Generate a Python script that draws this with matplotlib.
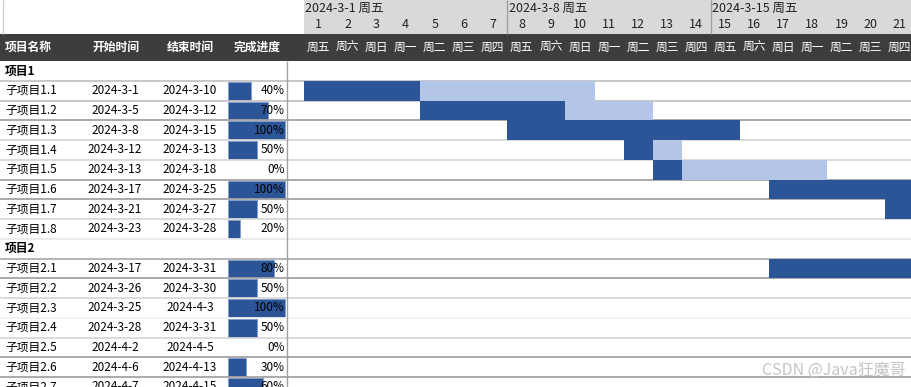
import math
import datetime as dt
import matplotlib
matplotlib.use("Agg")
import matplotlib.pyplot as plt

plt.rcParams['font.family'] = ['Noto Sans CJK SC', 'DejaVu Sans']

# ---------------- data ----------------
row_names = ['项目1', '子项目1.1', '子项目1.2', '子项目1.3', '子项目1.4', '子项目1.5',
             '子项目1.6', '子项目1.7', '子项目1.8', '项目2', '子项目2.1', '子项目2.2',
             '子项目2.3', '子项目2.4', '子项目2.5', '子项目2.6', '子项目2.7']
start_dates = [None, '2024-3-1', '2024-3-5', '2024-3-8', '2024-3-12', '2024-3-13',
               '2024-3-17', '2024-3-21', '2024-3-23', None, '2024-3-17', '2024-3-26',
               '2024-3-25', '2024-3-28', '2024-4-2', '2024-4-6', '2024-4-7']
end_dates = [None, '2024-3-10', '2024-3-12', '2024-3-15', '2024-3-13', '2024-3-18',
             '2024-3-25', '2024-3-27', '2024-3-28', None, '2024-3-31', '2024-3-30',
             '2024-4-3', '2024-3-31', '2024-4-5', '2024-4-13', '2024-4-15']
progress = [None, 0.40, 0.70, 1.00, 0.50, 0.00, 1.00, 0.50, 0.20, None,
            0.80, 0.50, 1.00, 0.50, 0.00, 0.30, 0.60]
headers = ['项目名称', '开始时间', '结束时间', '完成进度']
week_names = ['周一', '周二', '周三', '周四', '周五', '周六', '周日']
chart_start = '2024-3-1'
n_days_shown = 21
watermark = 'CSDN @Java狂魔哥'

# ---------------- style ----------------
W, H = 912, 387
ROW_H = 19.75
TOP = 61
GX0 = 304
DAY_W = 29.05
DARK = '#2B5597'
LIGHT = '#B4C6E7'
HEAD_DARK = '#3D3D3D'
HEAD_GRAY = '#D9D9D9'
line_cols = ['#BFBFBF', '#BFBFBF', '#9C9C9C', '#D4D4D4', '#D4D4D4', '#9C9C9C',
             '#9C9C9C', '#D4D4D4', '#E8E8E8', '#A8A8A8', '#9C9C9C', '#D4D4D4',
             '#F0F0F0', '#D4D4D4', '#9C9C9C', '#9C9C9C']


def parse(s):
    y, m, d = map(int, s.split('-'))
    return dt.date(y, m, d)


d0 = parse(chart_start)

fig = plt.figure(figsize=(W / 100, H / 100), dpi=100)
ax = fig.add_axes([0, 0, 1, 1])
ax.set_xlim(0, W)
ax.set_ylim(H, 0)
ax.axis('off')

# gantt axes: x in days, y in pixels
gx = fig.add_axes([GX0 / W, 0, (W - GX0) / W, 1])
gx.set_xlim(1, 1 + (W - GX0) / DAY_W)
gx.set_ylim(H, 0)
gx.axis('off')
gx.patch.set_alpha(0)

# header backgrounds
ax.add_patch(plt.Rectangle((GX0, 0), W - GX0, 34, color=HEAD_GRAY, lw=0, zorder=0))
ax.add_patch(plt.Rectangle((0, 34), W, TOP - 34, color=HEAD_DARK, lw=0, zorder=0))
ax.vlines(3, 0, 34, color='#D0D0D0', lw=1)

# table header text
hx = [5, 116, 190, 257]
has = ['left', 'center', 'center', 'center']
for t, x, ha in zip(headers, hx, has):
    ax.text(x, 47.5, t, color='white', fontsize=8.5, fontweight='bold', ha=ha, va='center')

# date header
for d in range(1, n_days_shown + 1):
    date = d0 + dt.timedelta(days=d - 1)
    gx.text(d + 0.5, 25, str(date.day), ha='center', va='center', fontsize=9, color='#222222')
    gx.text(d + 0.5, 47.5, week_names[date.weekday()], ha='center', va='center',
            fontsize=8.5, color='white')
    if (d - 1) % 7 == 0:
        gx.text(d + 0.05, 8, f'{date.year}-{date.month}-{date.day} {week_names[date.weekday()]}',
                ha='left', va='center', fontsize=9, color='#222222')
        if d > 1:
            gx.vlines(d, 0, 34, color='#A0A0A0', lw=1)

# rows
for i, name in enumerate(row_names):
    yc = TOP + (i + 0.5) * ROW_H
    if start_dates[i] is None:
        ax.text(5, yc, name, fontsize=8.5, fontweight='bold', ha='left', va='center', color='black')
        continue
    ax.text(5, yc, name, fontsize=8.5, ha='left', va='center', color='black')
    ax.text(115, yc, start_dates[i], fontsize=8.5, ha='center', va='center', color='black')
    ax.text(190, yc, end_dates[i], fontsize=8.5, ha='center', va='center', color='black')
    p = progress[i]
    if p > 0:
        ax.barh(yc, 57 * p, left=228.5, height=ROW_H - 2, color=DARK, edgecolor='#7F9BCB',
                lw=0.6, zorder=2)
    ax.text(284.5, yc, f'{int(round(p * 100))}%', fontsize=8.5, ha='right', va='center',
            color='black', zorder=3)
    # gantt
    s = (parse(start_dates[i]) - d0).days + 1
    e = (parse(end_dates[i]) - d0).days + 1
    dur = e - s + 1
    done = math.floor((e - s) * p + 1e-9) + 1
    gx.barh(yc, done, left=s, height=ROW_H, color=DARK, lw=0, zorder=1)
    if dur - done > 0:
        gx.barh(yc, dur - done, left=s + done, height=ROW_H, color=LIGHT, lw=0, zorder=1)

# horizontal grid lines
for k, c in enumerate(line_cols, start=1):
    ax.hlines(TOP + k * ROW_H, 0, W, color=c, lw=1.2, zorder=4)
ax.vlines(287, TOP, H, color='#A0A0A0', lw=1, zorder=4)

ax.text(906, 370, watermark, fontsize=11.5, ha='right', va='center', color='#C4C4C4', zorder=5)

fig.savefig('out.png', dpi=100)
